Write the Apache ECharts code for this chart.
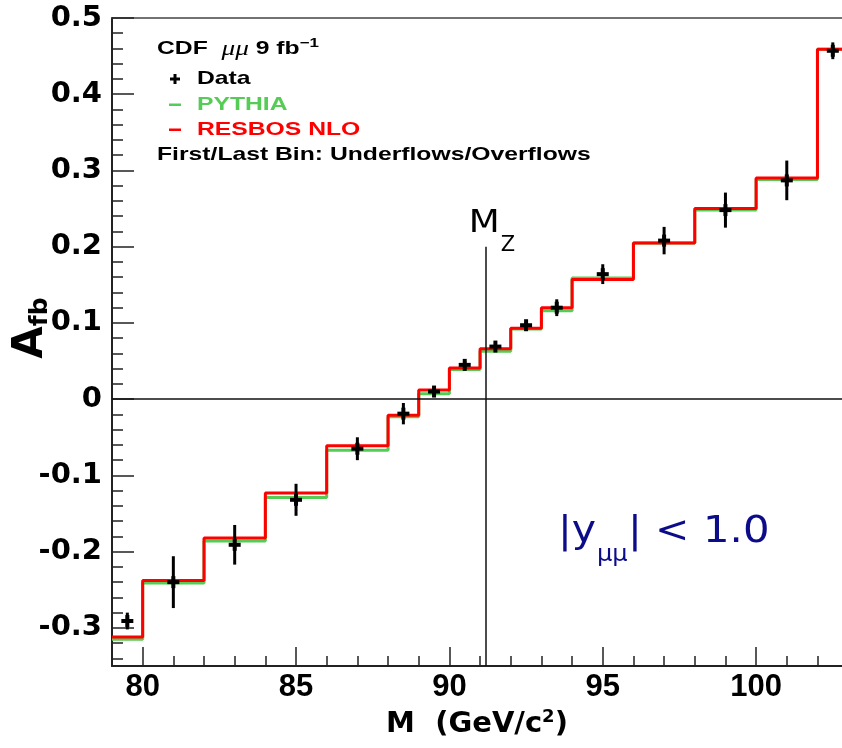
<!DOCTYPE html>
<html><head><meta charset="utf-8">
<script src="https://cdn.jsdelivr.net/npm/echarts@6/dist/echarts.min.js"></script>
<style>html,body{margin:0;padding:0;background:#fff}#c{width:842px;height:748px}</style>
</head><body><div id="c"></div>
<script>
// ---- data ----
const binEdges = [79, 80, 82, 84, 86, 88, 89, 90, 91, 92, 93, 94, 96, 98, 100, 102, 103];
const resbos = [-0.312, -0.238, -0.182, -0.123, -0.061, -0.021, 0.012, 0.041, 0.066, 0.093, 0.120, 0.157, 0.205, 0.250, 0.290, 0.459];
const pythia = [-0.315, -0.241, -0.186, -0.129, -0.067, -0.023, 0.007, 0.039, 0.063, 0.092, 0.116, 0.159, 0.205, 0.248, 0.288, 0.459];
const dataX = [79.5, 81, 83, 85, 87, 88.5, 89.5, 90.5, 91.5, 92.5, 93.5, 95, 97, 99, 101, 102.5];
const dataY = [-0.291, -0.240, -0.191, -0.132, -0.065, -0.019, 0.010, 0.045, 0.069, 0.097, 0.120, 0.164, 0.208, 0.248, 0.287, 0.457];
const dataErr = [0.011, 0.034, 0.026, 0.021, 0.015, 0.014, 0.007, 0.005, 0.004, 0.004, 0.011, 0.013, 0.018, 0.023, 0.026, 0.011];
const xMajorTicks = [80, 85, 90, 95, 100];
const yMajorTicks = [-0.3, -0.2, -0.1, 0, 0.1, 0.2, 0.3, 0.4, 0.5];
const MZ = 91.1876;
const MZ_LINE_TOP = 0.2;
const X_MIN = 79, X_MAX = 102.8, Y_MIN = -0.35, Y_MAX = 0.5;

const xMinorTicks = [];
for (let v = 79; v <= 102; v++) xMinorTicks.push(v);
const yMinorTicks = [];
for (let k = -17; k <= 25; k++) yMinorTicks.push(Math.round(k * 2) / 100);

function stepData(vals) {
  const d = vals.map((v, i) => [binEdges[i], v]);
  d.push([binEdges[binEdges.length - 1], vals[vals.length - 1]]);
  return d;
}

const GREEN = '#55cc55', RED = '#ff0000', NAVY = '#0c0c8a';
const BOLD = 'Liberation Sans';
const DV = 'DejaVu Sans';

const chart = echarts.init(document.getElementById('c'), null, {renderer: 'canvas'});

const option = {
  animation: false,
  backgroundColor: '#fff',
  grid: {left: 112, right: 0, top: 18, bottom: 82, containLabel: false, outerBoundsMode: 'none'},
  xAxis: [
    {
      type: 'value', min: X_MIN, max: X_MAX, position: 'bottom', offset: 0,
      axisLine: {show: true, onZero: false, lineStyle: {color: '#222', width: 2}},
      axisTick: {show: true, inside: true, length: 19, customValues: xMajorTicks, lineStyle: {color: '#222', width: 1.5}},
      axisLabel: {show: true, customValues: xMajorTicks, fontFamily: BOLD, fontWeight: 'bold', fontSize: 31, color: '#000', margin: 6, lineHeight: 31},
      splitLine: {show: false},
      name: '{a|M  (GeV/c}{s|2}{a|)}', nameLocation: 'middle', nameGap: 42, nameMoveOverlap: false,
      nameTextStyle: {
        rich: {
          a: {fontFamily: DV, fontWeight: 'bold', fontSize: 29, color: '#000', lineHeight: 32},
          s: {fontFamily: DV, fontWeight: 'bold', fontSize: 18, color: '#000', lineHeight: 16, verticalAlign: 'top'}
        }
      }
    },
    {
      type: 'value', min: X_MIN, max: X_MAX, position: 'bottom', offset: 0,
      axisLine: {show: false, onZero: false},
      axisTick: {show: true, inside: true, length: 10, customValues: xMinorTicks, lineStyle: {color: '#222', width: 1.5}},
      axisLabel: {show: false},
      splitLine: {show: false}
    },
    {
      type: 'value', min: X_MIN, max: X_MAX, position: 'top', offset: 0,
      axisLine: {show: true, onZero: false, lineStyle: {color: '#444', width: 1.5}},
      axisTick: {show: false}, axisLabel: {show: false}, splitLine: {show: false}
    }
  ],
  yAxis: [
    {
      type: 'value', min: Y_MIN, max: Y_MAX, position: 'left', offset: 0,
      axisLine: {show: true, onZero: false, lineStyle: {color: '#222', width: 2}},
      axisTick: {show: true, inside: true, length: 22, customValues: yMajorTicks, lineStyle: {color: '#222', width: 1.5}},
      axisLabel: {
        show: true, customValues: yMajorTicks, fontFamily: DV, fontWeight: 'bold', fontSize: 29, color: '#000', margin: 10,
        formatter: v => (Math.abs(v) < 1e-9 ? '0' : Number(v).toFixed(1))
      },
      splitLine: {show: false},
      name: '{a|A}{s|fb}', nameLocation: 'middle', nameRotate: 90, nameGap: 59, nameMoveOverlap: false,
      nameTextStyle: {
        padding: [0, 0, 0, 28],
        rich: {
          a: {fontFamily: DV, fontWeight: 'bold', fontSize: 42, color: '#000', lineHeight: 44},
          s: {fontFamily: DV, fontWeight: 'bold', fontSize: 25, color: '#000', lineHeight: 12, verticalAlign: 'bottom'}
        }
      }
    },
    {
      type: 'value', min: Y_MIN, max: Y_MAX, position: 'left', offset: 0,
      axisLine: {show: false, onZero: false},
      axisTick: {show: true, inside: true, length: 11, customValues: yMinorTicks, lineStyle: {color: '#222', width: 1.5}},
      axisLabel: {show: false},
      splitLine: {show: false}
    }
  ],
  series: [
    {
      name: 'lines', type: 'line', xAxisIndex: 0, yAxisIndex: 0, data: [], z: 1, silent: true,
      markLine: {
        silent: true, symbol: ['none', 'none'], animation: false,
        lineStyle: {color: '#111', width: 1.5, type: 'solid'},
        label: {show: false},
        data: [
          {yAxis: 0},
          [{coord: [MZ, Y_MIN]}, {coord: [MZ, MZ_LINE_TOP]}]
        ]
      }
    },
    {
      name: 'PYTHIA', type: 'line', step: 'end', data: stepData(pythia), symbol: 'none', z: 2,
      lineStyle: {color: GREEN, width: 3}, itemStyle: {color: GREEN}
    },
    {
      name: 'RESBOS NLO', type: 'line', step: 'end', data: stepData(resbos), symbol: 'none', z: 3,
      lineStyle: {color: RED, width: 3}, itemStyle: {color: RED}
    },
    {
      name: 'Data', type: 'custom', z: 4,
      data: dataX.map((x, i) => [x, dataY[i], dataErr[i]]),
      renderItem: function (params, api) {
        const x = api.value(0), y = api.value(1), e = api.value(2);
        const c = api.coord([x, y]);
        const hi = api.coord([x, y + e]);
        const lo = api.coord([x, y - e]);
        return {
          type: 'group',
          children: [
            {type: 'line', shape: {x1: c[0], y1: hi[1], x2: c[0], y2: lo[1]}, style: {stroke: '#000', lineWidth: 3}},
            {type: 'rect', shape: {x: c[0] - 6, y: c[1] - 2, width: 12, height: 4}, style: {fill: '#000'}},
            {type: 'rect', shape: {x: c[0] - 2, y: c[1] - 6, width: 4, height: 12}, style: {fill: '#000'}}
          ]
        };
      }
    }
  ]
};
chart.setOption(option);

// ---- annotations ----
const mzTop = chart.convertToPixel({xAxisIndex: 0, yAxisIndex: 0}, [MZ, MZ_LINE_TOP]);
const LSX = 1.3;
const legFont = {fontFamily: BOLD, fontWeight: 'bold', fontSize: 19};
function legText(x, y, text, fill) {
  return {type: 'text', x: x, y: y, scaleX: LSX, style: Object.assign({text: text, fill: fill, verticalAlign: 'middle'}, legFont)};
}
function navyText(x, y, text, size, sx) {
  return {type: 'text', x: x, y: y, scaleX: sx, style: {text: text, fontFamily: DV, fontSize: size, fill: NAVY, verticalAlign: 'middle'}};
}
chart.setOption({
  graphic: [
    {type: 'text', x: 157, y: 37, scaleX: LSX, style: {
      text: '{b|CDF  }{i|μμ}{b| 9 fb}{s|−1}',
      rich: {
        b: {fontFamily: BOLD, fontWeight: 'bold', fontSize: 19, fill: '#000', lineHeight: 24},
        i: {fontFamily: 'Liberation Serif', fontStyle: 'italic', fontSize: 21, fill: '#000', lineHeight: 24},
        s: {fontFamily: BOLD, fontWeight: 'bold', fontSize: 13, fill: '#000', lineHeight: 12, verticalAlign: 'top'}
      }
    }},
    {type: 'rect', shape: {x: 170, y: 77.5, width: 10, height: 3}, style: {fill: '#000'}},
    {type: 'rect', shape: {x: 173.5, y: 74, width: 3, height: 10}, style: {fill: '#000'}},
    legText(197, 79, 'Data', '#000'),
    {type: 'rect', shape: {x: 169, y: 103.5, width: 12, height: 2.5}, style: {fill: GREEN}},
    legText(197, 105, 'PYTHIA', GREEN),
    {type: 'rect', shape: {x: 169, y: 128.5, width: 12, height: 2.5}, style: {fill: RED}},
    legText(197, 130, 'RESBOS NLO', RED),
    legText(157, 155, 'First/Last Bin: Underflows/Overflows', '#000'),
    // M_Z label
    {type: 'text', x: mzTop[0] - 17, y: mzTop[1] - 23, scaleX: 1.12, style: {text: 'M', fontFamily: DV, fontSize: 32, fill: '#000', verticalAlign: 'middle'}},
    {type: 'text', x: mzTop[0] + 15, y: mzTop[1] - 1.5, style: {text: 'Z', fontFamily: DV, fontSize: 21, fill: '#000', verticalAlign: 'middle'}},
    // rapidity label
    navyText(558, 532, '|y', 38, 1.08),
    navyText(597, 555, 'μμ', 23, 1.05),
    navyText(628, 532, '|', 38, 1.08),
    navyText(655, 532, '<', 38, 1.08),
    navyText(703, 532, '1.0', 38, 1.1)
  ]
});
</script>
</body></html>
